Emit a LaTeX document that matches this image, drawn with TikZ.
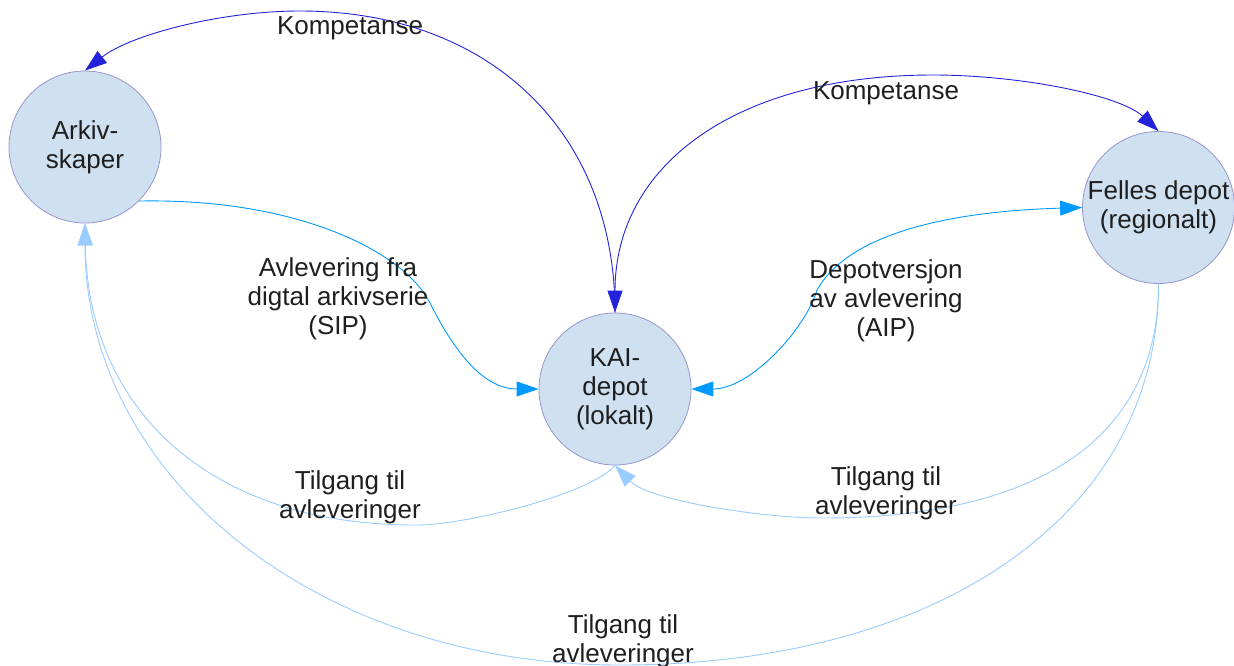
\documentclass[tikz,border=0pt]{standalone}
\usepackage{fontspec}
\setmainfont{Liberation Sans}
\usetikzlibrary{arrows.meta}
\definecolor{kompc}{RGB}{35,35,220}
\definecolor{avlc}{RGB}{0,153,255}
\definecolor{tilc}{RGB}{153,204,255}
\definecolor{circfill}{RGB}{207,224,240}
\definecolor{circdraw}{RGB}{150,150,205}
\definecolor{txtc}{RGB}{30,30,30}
\begin{document}
\begin{tikzpicture}[x=1pt,y=-1pt,
  every node/.style={font=\fontsize{26}{29}\selectfont, text=txtc},
  state/.style={circle, draw=circdraw, fill=circfill, line width=0.8pt, minimum size=152pt, inner sep=0pt, align=center},
  lbl/.style={align=center, inner sep=0pt},
  onetip/.style={-{Triangle[length=22pt,width=15pt]}},
  twotip/.style={{Triangle[length=22pt,width=15pt]}-{Triangle[length=22pt,width=15pt]}},
  komp/.style={draw=kompc, line width=0.9pt},
  avl/.style={draw=avlc, line width=0.9pt},
  til/.style={draw=tilc, line width=0.9pt}
]
\useasboundingbox (0,0) rectangle (1234,665);

\node[state] (ark) at (85,147) {Arkiv-\\skaper};
\node[state] (kai) at (615,389) {KAI-\\depot\\(lokalt)};
\node[state] (fel) at (1158.5,207.5) {Felles depot\\(regionalt)};

% Kompetanse (left)
\draw[komp, onetip] (kai.north) .. controls (615,131) and (489,11) .. (300,11)
  .. controls (220,11) and (130,35) .. (ark.north);
% Kompetanse (right)
\draw[komp, twotip] (kai.north) .. controls (615,165) and (736,75) .. (933,75)
  .. controls (1020,75) and (1120,95) .. (fel.north);
% Avlevering (SIP)
\draw[avl, onetip] (ark.-45) .. controls (300,198) and (405,253) .. (430,303)
  .. controls (450,343) and (480,389) .. (kai.west);
% Depotversjon (AIP)
\draw[avl, twotip] (kai.east) .. controls (750,389) and (805,330) .. (817,290)
  .. controls (845,240) and (930,212) .. (fel.west);
% Tilgang: KAI -> Arkiv
\draw[til, onetip] (kai.south) .. controls (590,495) and (460,526) .. (415,525)
  .. controls (210,525) and (88,410) .. (ark.south);
% Tilgang: Felles -> KAI
\draw[til, onetip] (fel.south) .. controls (1159,436) and (1041,518) .. (822,518)
  .. controls (760,518) and (648,500) .. (kai.south);
% Tilgang: Felles -> Arkiv
\draw[til, onetip] (fel.south) .. controls (1159,512) and (943,665) .. (620,665)
  .. controls (315,665) and (85,475) .. (ark.south);

\node[lbl] (k1) at (350,28) {Kompetanse};
\node[lbl] (k2) at (886,93) {Kompetanse};
\node[lbl] (sip) at (338,299) {Avlevering fra\\digtal arkivserie\\(SIP)};
\node[lbl] (aip) at (886,301) {Depotversjon\\av avlevering\\(AIP)};
\node[lbl] (t1) at (350,497) {Tilgang til\\avleveringer};
\node[lbl] (t2) at (886,493) {Tilgang til\\avleveringer};
\node[lbl] (t3) at (623,641) {Tilgang til\\avleveringer};
\end{tikzpicture}
\end{document}
